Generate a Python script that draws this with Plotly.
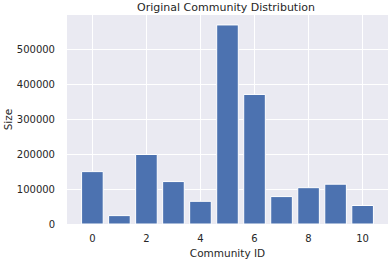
import plotly.graph_objects as go

community_ids = [0, 1, 2, 3, 4, 5, 6, 7, 8, 9, 10]
sizes = [150000, 24000, 199000, 121500, 65000, 570000, 371000, 78500, 104000, 114000, 53000]
x_ticks = [0, 2, 4, 6, 8, 10]
y_ticks = [0, 100000, 200000, 300000, 400000, 500000]

fig = go.Figure(go.Bar(
    x=community_ids, y=sizes,
    marker=dict(color="#4C72B0", line=dict(color="white", width=1)),
    width=0.8,
))

font = "DejaVu Sans"
fig.update_layout(
    width=388, height=260,
    margin=dict(l=67, r=0, t=15, b=36, autoexpand=False),
    paper_bgcolor="white", plot_bgcolor="#EAEAF2",
    font=dict(family=font, size=10, color="#262626"),
    title=dict(text="Original Community Distribution", x=226 / 388, xanchor="center",
               y=1 - 7 / 260, yanchor="middle", font=dict(size=11, color="#262626")),
    showlegend=False,
    xaxis=dict(range=[-0.94, 10.94], tickvals=x_ticks, ticktext=[str(v) for v in x_ticks],
               showgrid=True, gridcolor="white", gridwidth=1, zeroline=False,
               ticks="", ticklabelstandoff=7, automargin=False,
               title=dict(text="Community ID", standoff=6, font=dict(size=10.5))),
    yaxis=dict(range=[0, 598500], tickvals=y_ticks, ticktext=[str(v) for v in y_ticks],
               showgrid=True, gridcolor="white", gridwidth=1, zeroline=False,
               ticks="", ticklabelstandoff=11, automargin=False,
               title=dict(text="Size", standoff=2, font=dict(size=10.5))),
)
fig.write_html("out.html", config={"displayModeBar": False},
               post_script="document.body.style.margin='0';document.body.style.overflow='hidden';")
